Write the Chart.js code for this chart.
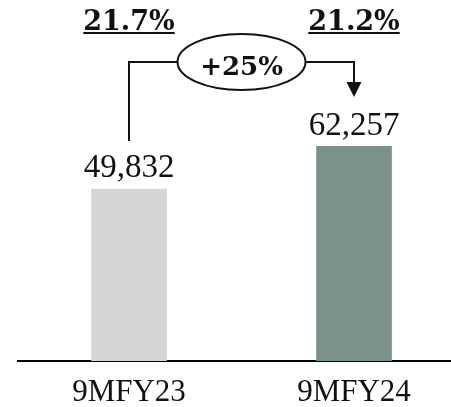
<!DOCTYPE html>
<html>
<head>
<meta charset="utf-8">
<script src="https://cdn.jsdelivr.net/npm/chart.js@4/dist/chart.umd.min.js"></script>
<style>
  html, body { margin: 0; padding: 0; background: #fff; overflow: hidden; }
  #wrap { width: 451px; height: 407px; position: relative; }
</style>
</head>
<body>
<div id="wrap"><canvas id="chart"></canvas></div>
<script>
const periods = ['9MFY23', '9MFY24'];
const values = [49832, 62257];
const margins = ['21.7%', '21.2%'];
const growth = '+25%';
const barColors = ['#d5d6d8', '#7b918c'];

const SERIF = '"Liberation Serif", "Times New Roman", serif';
const SERIF_BOLD = '"DejaVu Serif", serif';

function fmt(v) {
  return v.toLocaleString('en-US');
}

// value labels, margin labels and the growth bubble with its connector
const annotate = {
  id: 'annotate',
  afterDatasetsDraw(chart) {
    const ctx = chart.ctx;
    const xs = chart.scales.x;
    const ys = chart.scales.y;
    const x0 = xs.getPixelForValue(0);
    const x1 = xs.getPixelForValue(1);
    const top0 = ys.getPixelForValue(values[0]);
    const top1 = ys.getPixelForValue(values[1]);

    ctx.save();
    ctx.fillStyle = '#111';
    ctx.textAlign = 'center';
    ctx.textBaseline = 'alphabetic';
    ctx.font = '33px ' + SERIF;
    ctx.fillText(fmt(values[0]), x0, top0 - 12);
    ctx.fillText(fmt(values[1]), x1, top1 - 11);

    // margins, bold + underlined
    ctx.font = 'bold 27px ' + SERIF_BOLD;
    ctx.lineWidth = 2;
    ctx.strokeStyle = '#111';
    [x0, x1].forEach((x, i) => {
      ctx.fillText(margins[i], x, 30);
      const w = ctx.measureText(margins[i]).width;
      ctx.beginPath();
      ctx.moveTo(x - w / 2, 33);
      ctx.lineTo(x + w / 2, 33);
      ctx.stroke();
    });

    // connector
    const cx = (x0 + x1) / 2, cy = 62, rx = 64, ry = 28;
    const lineY = cy;
    ctx.lineWidth = 2;
    ctx.beginPath();
    ctx.moveTo(x0, top0 - 48);
    ctx.lineTo(x0, lineY);
    ctx.lineTo(cx - rx, lineY);
    ctx.moveTo(cx + rx, lineY);
    ctx.lineTo(x1, lineY);
    ctx.lineTo(x1, 84);
    ctx.stroke();
    ctx.beginPath();
    ctx.moveTo(x1 - 7.5, 82);
    ctx.lineTo(x1 + 7.5, 82);
    ctx.lineTo(x1, 97);
    ctx.closePath();
    ctx.fill();

    ctx.beginPath();
    ctx.ellipse(cx, cy, rx, ry, 0, 0, Math.PI * 2);
    ctx.fillStyle = '#fff';
    ctx.fill();
    ctx.stroke();

    ctx.fillStyle = '#111';
    ctx.font = 'bold 26px ' + SERIF_BOLD;
    ctx.fillText(growth, cx, 75);
    ctx.restore();
  }
};

new Chart(document.getElementById('chart'), {
  type: 'bar',
  data: {
    datasets: [{
      data: values.map((v, i) => ({ x: i, y: v })),
      backgroundColor: barColors,
      barThickness: 75,
    }]
  },
  options: {
    responsive: true,
    maintainAspectRatio: false,
    animation: false,
    layout: { padding: { top: 16, left: 18, right: 0, bottom: -17.2 } },
    plugins: {
      legend: { display: false },
      tooltip: { enabled: false }
    },
    scales: {
      x: {
        type: 'linear',
        offset: false,
        min: -0.4933,
        max: 1.431,
        grid: { display: false, drawTicks: false, offset: false },
        border: { display: true, color: '#000', width: 2 },
        ticks: {
          stepSize: 1,
          includeBounds: false,
          autoSkip: false,
          maxRotation: 0,
          padding: 13,
          color: '#111',
          font: { family: SERIF, size: 31 },
          callback: (v) => periods[v] !== undefined && Number.isInteger(v) ? periods[v] : ''
        }
      },
      y: {
        display: false,
        min: 0,
        max: 100000
      }
    }
  },
  plugins: [annotate]
});
</script>
</body>
</html>
